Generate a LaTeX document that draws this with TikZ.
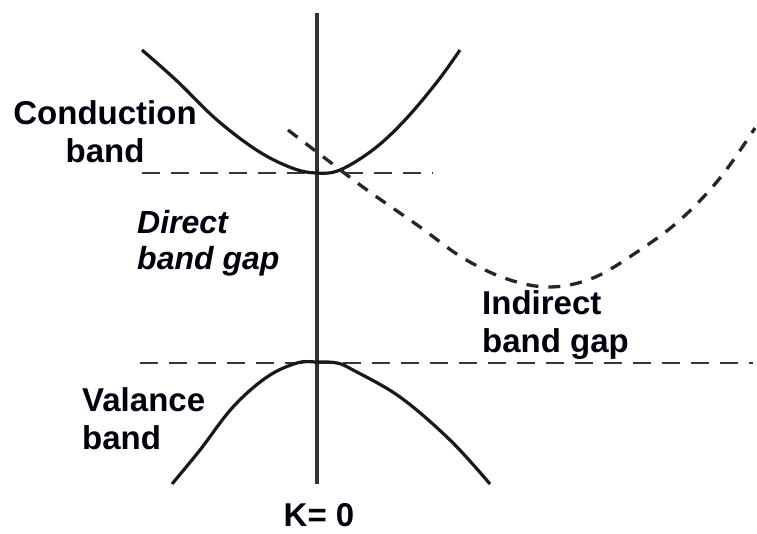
\documentclass[tikz,border=0pt]{standalone}
\usepackage{fontspec}
\setmainfont{Liberation Sans}
\usetikzlibrary{positioning}

\begin{document}
\begin{tikzpicture}[
    x=1pt, y=-1pt,
    every node/.style={font=\bfseries\fontsize{33}{38}\selectfont, inner sep=0pt, text=black!95!blue},
    lbl/.style={align=left, anchor=north west},
    band/.style={line width=3.2pt, black!90, line join=round},
    kaxis/.style={line width=3.4pt, black!80},
    level/.style={line width=2.9pt, black!78, dash pattern=on 18pt off 11pt},
    indir/.style={line width=3.3pt, black!85, dash pattern=on 12pt off 10pt},
]
\useasboundingbox (0,0) rectangle (757,534);

% --- k = 0 axis -------------------------------------------------------
\coordinate (axtop) at (317, 13);
\coordinate (axbot) at (317,484);
\draw[kaxis] (axtop) -- (axbot);

% --- band edges (dashed levels) ---------------------------------------
\coordinate (cbl) at (142,173);
\coordinate (cbr) at (433,173);
\coordinate (vbl) at (140,363);
\coordinate (vbr) at (753,363);
\draw[level] (cbl) -- (cbr);
\draw[level] (vbl) -- (vbr);

% --- conduction band (direct minimum at k = 0) ------------------------
\draw[band] plot[smooth, tension=0.6] coordinates {
    (142,50) (177,81) (217,120) (258,151) (292,168) (316,173)
    (340,170) (374,149) (405,120) (437,82) (460,50)};

% --- valence band -----------------------------------------------------
\draw[band] plot[smooth, tension=0.6] coordinates {
    (172,484) (200,450) (233,407) (267,377) (297,363) (317,362)
    (337,363) (353,370) (400,397) (450,440) (490,484)};

% --- indirect conduction band (minimum away from k = 0) ---------------
\draw[indir] plot[smooth, tension=0.6] coordinates {
    (288,130) (330,162) (367,190) (420,227) (463,258) (507,279)
    (550,287) (593,278) (637,252) (680,220) (720,178) (755,128)};

% --- labels -----------------------------------------------------------
\node[align=center, anchor=north] (cond) at (105,100) {Conduction\\band};
\node[lbl, font=\bfseries\itshape\fontsize{32}{36}\selectfont] (dgap) at (137,210) {Direct\\band gap};
\node[lbl] (igap) at (482,290) {Indirect\\band gap};
\node[lbl] (val) at (82,387) {Valance\\band};
\node[anchor=north] (kzero) at (319,503) {K= 0};
\end{tikzpicture}
\end{document}
